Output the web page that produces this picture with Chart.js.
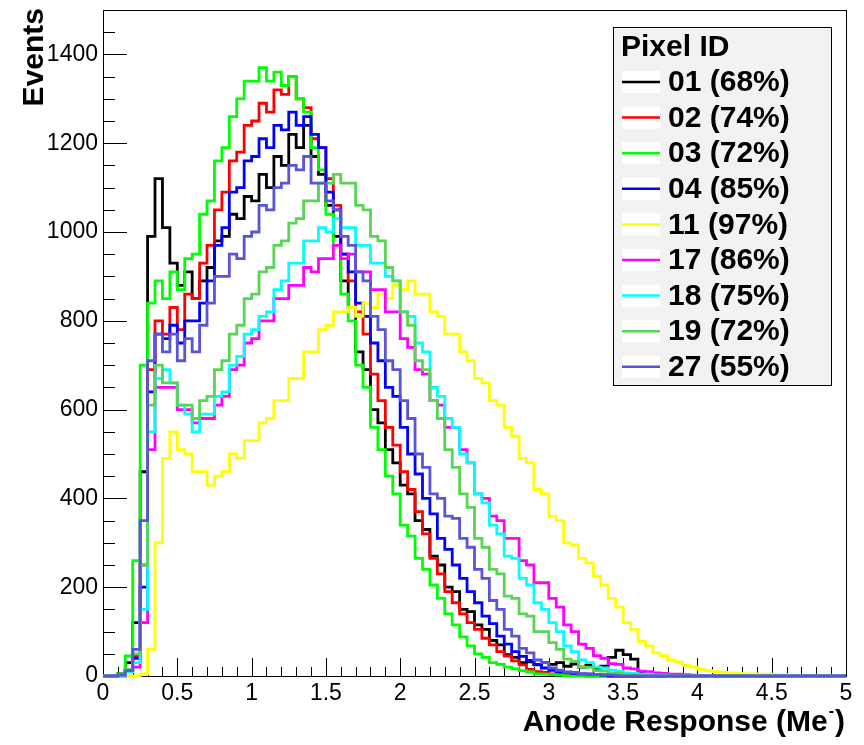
<!DOCTYPE html>
<html>
<head>
<meta charset="utf-8">
<script src="https://cdn.jsdelivr.net/npm/chart.js@4.4.1/dist/chart.umd.min.js"></script>
<style>
    html, body { margin: 0; padding: 0; background: #fff; }
    #wrap { width: 864px; height: 745px; position: relative; }
</style>
</head>
<body>
<div id="wrap"><canvas id="anodeChart"></canvas></div>
<script>
// histogram bins are 0.05 Me- wide, values start at 0
const binWidth = 0.05;
const pixelIds = ["01", "02", "03", "04", "11", "17", "18", "19", "27"];
const efficiencies = ["68%", "74%", "72%", "85%", "97%", "86%", "75%", "72%", "55%"];
const lineColors = ["#000000", "#ff0000", "#00ff00", "#0000ff", "#ffff00", "#ff00ff", "#00ffff", "#59d454", "#5954d8"];

const pix01 = [0, 0, 5, 30, 120, 460, 990, 1120, 1010, 930, 880, 910, 850, 890, 920, 980, 990, 1040, 1030, 1080,
    1070, 1130, 1100, 1170, 1150, 1220, 1190, 1240, 1170, 1130, 1060, 990, 890, 830, 730, 690, 600, 570, 510, 480,
    430, 410, 350, 330, 270, 250, 200, 190, 150, 145, 115, 105, 80, 70, 48, 42, 30, 32, 25, 30,
    26, 30, 22, 27, 20, 24, 16, 22, 42, 58, 48, 38, 6, 0];
const pix02 = [0, 0, 2, 15, 45, 250, 690, 800, 770, 830, 780, 860, 850, 930, 970, 1050, 1090, 1160, 1180, 1240,
    1250, 1290, 1270, 1320, 1310, 1350, 1300, 1280, 1210, 1190, 1120, 1060, 950, 890, 820, 770, 680, 620, 560, 520,
    460, 420, 370, 320, 265, 230, 190, 165, 140, 120, 105, 85, 70, 55, 45, 34, 25, 15, 10, 8,
    5, 4, 3, 2, 1, 0];
const pix03 = [0, 0, 5, 45, 260, 700, 840, 890, 850, 910, 870, 940, 950, 1040, 1070, 1160, 1190, 1260, 1300, 1340,
    1340, 1370, 1340, 1360, 1330, 1350, 1300, 1270, 1190, 1140, 1040, 970, 860, 800, 700, 650, 560, 510, 450, 410,
    340, 315, 265, 240, 205, 175, 140, 115, 88, 68, 50, 42, 30, 26, 20, 16, 12, 9, 5, 4,
    3, 2, 1, 0];
const pix04 = [0, 0, 2, 12, 40, 200, 640, 770, 760, 790, 750, 800, 800, 840, 890, 970, 1010, 1090, 1100, 1160,
    1170, 1210, 1190, 1240, 1230, 1270, 1240, 1260, 1220, 1190, 1090, 1050, 950, 910, 840, 810, 750, 710, 650, 630,
    560, 500, 455, 400, 365, 310, 285, 250, 220, 190, 165, 135, 118, 90, 72, 55, 44, 35, 26, 18,
    13, 10, 8, 6, 5, 4, 3, 2, 0];
const pix11 = [0, 0, 0, 0, 0, 5, 60, 300, 490, 550, 510, 500, 460, 460, 430, 450, 460, 500, 490, 530,
    530, 570, 580, 620, 620, 670, 670, 730, 730, 780, 790, 820, 820, 830, 810, 840, 830, 860, 850, 880,
    870, 890, 860, 860, 820, 810, 770, 770, 730, 710, 670, 660, 620, 610, 560, 540, 490, 480, 420, 410,
    360, 350, 300, 295, 265, 255, 225, 205, 175, 155, 120, 105, 78, 68, 52, 46, 36, 32, 24, 20,
    15, 12, 10, 8, 7, 6, 5, 5, 4, 4, 3, 3, 2, 0];
const pix17 = [0, 0, 0, 10, 20, 120, 510, 650, 650, 650, 600, 600, 570, 580, 580, 610, 630, 690, 700, 750,
    760, 800, 800, 850, 850, 880, 880, 920, 910, 940, 940, 970, 940, 950, 910, 910, 870, 870, 820, 820,
    760, 740, 690, 680, 620, 610, 560, 560, 510, 480, 410, 400, 360, 350, 310, 310, 260, 250, 210, 210,
    175, 155, 115, 100, 72, 62, 46, 40, 28, 26, 18, 16, 11, 10, 7, 6, 4, 4, 3, 2, 0];
const pix18 = [0, 0, 0, 10, 30, 150, 550, 670, 690, 660, 610, 590, 550, 590, 590, 630, 640, 700, 720, 770,
    780, 810, 820, 870, 890, 930, 930, 980, 980, 1010, 1000, 1030, 1010, 1010, 970, 970, 930, 930, 900, 890,
    820, 810, 750, 730, 650, 630, 580, 560, 500, 480, 410, 390, 340, 320, 270, 265, 220, 205, 165, 150,
    120, 100, 68, 55, 36, 30, 20, 18, 13, 11, 7, 6, 4, 4, 2, 2, 0];
const pix19 = [0, 0, 2, 15, 50, 250, 610, 700, 660, 660, 610, 610, 580, 620, 630, 690, 710, 770, 790, 850,
    860, 910, 920, 970, 980, 1020, 1030, 1070, 1070, 1110, 1110, 1130, 1110, 1110, 1060, 1050, 990, 980, 920, 890,
    820, 790, 710, 690, 620, 580, 510, 470, 410, 380, 310, 290, 240, 230, 180, 175, 140, 135, 100, 100,
    75, 60, 38, 33, 20, 20, 12, 11, 6, 6, 3, 3, 2, 0];
const pix27 = [0, 0, 2, 12, 60, 350, 710, 770, 730, 770, 710, 760, 730, 790, 840, 900, 900, 950, 940, 990,
    1000, 1060, 1050, 1100, 1110, 1150, 1140, 1170, 1110, 1110, 1070, 1050, 990, 970, 910, 890, 810, 780, 710, 690,
    620, 580, 500, 470, 410, 400, 360, 355, 310, 290, 240, 220, 170, 150, 105, 90, 62, 52, 36, 30,
    18, 13, 9, 8, 5, 5, 3, 3, 2, 0];

const series = [pix01, pix02, pix03, pix04, pix11, pix17, pix18, pix19, pix27];

const xMin = 0;
const xMax = 5;
const yMin = 0;
const yMax = 1500;

const font = "'Liberation Sans', Arial, Helvetica, sans-serif";

function toSteps(values) {
    const pts = values.map((v, i) => ({ x: i * binWidth, y: v }));
    pts.push({ x: values.length * binWidth, y: 0 });
    pts.push({ x: xMax, y: 0 });
    return pts;
}

// ROOT style frame: inside ticks, titles and the grey legend box
const rootFrame = {
    id: "rootFrame",
    beforeDatasetsDraw(chart) {
        const { ctx, chartArea: a, scales: { x, y } } = chart;
        ctx.save();
        ctx.strokeStyle = "#000";
        ctx.lineWidth = 1;
        ctx.strokeRect(a.left + 0.5, a.top + 0.5, a.right - a.left, a.bottom - a.top);

        ctx.beginPath();
        for (let i = 0; i <= 50; i++) {
            const px = Math.round(x.getPixelForValue(i * 0.1)) + 0.5;
            const len = i % 5 === 0 ? 18 : 9;
            ctx.moveTo(px, a.bottom);
            ctx.lineTo(px, a.bottom - len);
        }
        for (let v = 0; v <= yMax; v += 50) {
            const py = Math.round(y.getPixelForValue(v)) + 0.5;
            const len = v % 200 === 0 ? 24 : 12;
            ctx.moveTo(a.left, py);
            ctx.lineTo(a.left + len, py);
        }
        ctx.stroke();
        ctx.restore();
    },
    afterDatasetsDraw(chart) {
        const { ctx } = chart;
        ctx.save();

        // axis titles
        ctx.fillStyle = "#000";
        ctx.font = "bold 30px " + font;
        ctx.textBaseline = "alphabetic";
        ctx.textAlign = "left";
        const main = "Anode Response (Me";
        const wMain = ctx.measureText(main).width;
        const wClose = ctx.measureText(")").width;
        ctx.font = "bold 16px " + font;
        const wSup = ctx.measureText("-").width + 2;
        const right = 845;
        const base = 731;
        ctx.font = "bold 30px " + font;
        ctx.fillText(main, right - wClose - wSup - wMain, base);
        ctx.fillText(")", right - wClose, base);
        ctx.font = "bold 16px " + font;
        ctx.fillText("-", right - wClose - wSup + 1, base - 15);

        ctx.save();
        ctx.translate(43, 8);
        ctx.rotate(-Math.PI / 2);
        ctx.font = "bold 30px " + font;
        ctx.textAlign = "right";
        ctx.fillText("Events", 0, 0);
        ctx.restore();

        // legend
        const lx = 613, ly = 27, lw = 218, lh = 358;
        ctx.fillStyle = "#f2f2f2";
        ctx.fillRect(lx, ly, lw, lh);
        ctx.strokeStyle = "#000";
        ctx.lineWidth = 1;
        ctx.strokeRect(lx + 0.5, ly + 0.5, lw, lh);
        ctx.fillStyle = "#000";
        ctx.font = "bold 30px " + font;
        ctx.textAlign = "left";
        ctx.textBaseline = "middle";
        ctx.fillText("Pixel ID", 621, 48);
        chart.data.datasets.forEach((ds, i) => {
            const ry = 82 + i * 35.6;
            ctx.fillStyle = "#fff";
            ctx.fillRect(622, ry - 11, 38, 22);
            ctx.strokeStyle = ds.borderColor;
            ctx.lineWidth = 2.5;
            ctx.beginPath();
            ctx.moveTo(622, ry);
            ctx.lineTo(660, ry);
            ctx.stroke();
            ctx.fillStyle = "#000";
            ctx.fillText(ds.label, 668, ry + 1);
        });
        ctx.restore();
    }
};

const ctx = document.getElementById("anodeChart");

new Chart(ctx, {
    type: "line",
    data: {
        datasets: series.map((values, i) => ({
            label: `${pixelIds[i]} (${efficiencies[i]})`,
            data: toSteps(values),
            borderColor: lineColors[i],
            borderWidth: 2.8,
            stepped: "before",
            pointRadius: 0,
            fill: false,
            clip: false,
            order: -i
        }))
    },
    options: {
        animation: false,
        responsive: true,
        maintainAspectRatio: false,
        devicePixelRatio: 1,
        layout: {
            padding: { top: 10, right: 18, left: 0, bottom: 0 }
        },
        plugins: {
            legend: { display: false },
            tooltip: { enabled: false }
        },
        scales: {
            x: {
                type: "linear",
                min: xMin,
                max: xMax,
                grid: { display: false, drawTicks: false },
                border: { display: false },
                ticks: {
                    stepSize: 0.5,
                    color: "#000",
                    font: { family: font, size: 23 },
                    padding: 4,
                    maxRotation: 0,
                    autoSkip: false,
                    callback: v => String(+v.toFixed(1))
                },
                afterFit(scale) {
                    scale.height = 69;
                    scale.paddingLeft = 0;
                    scale.paddingRight = 0;
                }
            },
            y: {
                min: yMin,
                max: yMax,
                grid: { display: false, drawTicks: false },
                border: { display: false },
                ticks: {
                    stepSize: 200,
                    color: "#000",
                    font: { family: font, size: 23 },
                    padding: 5,
                    callback: v => v > 1400 ? "" : v
                },
                afterFit(scale) {
                    scale.width = 103;
                    scale.paddingTop = 0;
                    scale.paddingBottom = 0;
                }
            }
        }
    },
    plugins: [rootFrame]
});
</script>
</body>
</html>
